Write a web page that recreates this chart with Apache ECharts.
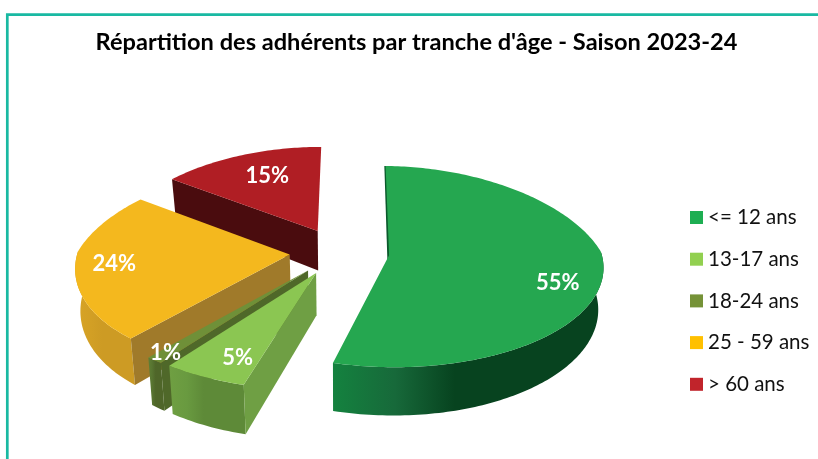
<!DOCTYPE html>
<html>
<head>
<meta charset="utf-8">
<style>
  html, body { margin: 0; padding: 0; background: #fff; }
  #main { width: 818px; height: 459px; }
</style>
</head>
<body>
<div id="main"></div>
<script src="https://cdn.jsdelivr.net/npm/echarts@6/dist/echarts.min.js"></script>
<script>
const categories = ['<= 12 ans', '13-17 ans', '18-24 ans', '25 - 59 ans', '> 60 ans'];
const shares = [55, 5, 1, 24, 15];

const legendColors = ['#1dae52', '#92d050', '#759237', '#ffc000', '#c1242b'];
const topColors = ['#25a750', '#8bc652', '#6f9038', '#f4b81e', '#b01e24'];
const cutColors = ['#0b5a2c', '#6f9f44', '#4f6829', '#a07a2a', '#4a0c0e'];
const wallLeft = ['#14823f', '#6f9f42', '#5f7f35', '#d8a426', '#4a0c0e'];
const wallMid = ['#17693a', '#699a40', '#587531', '#d3a025', '#4a0c0e'];
const wallRight = ['#07431f', '#5e8a38', '#4f6629', '#cd9b24', '#4a0c0e'];
const drawOrder = [5, 4, 3, 2, 1];

// label place on the disc: radius fraction and degrees away from the slice middle
const labelRadius = [0.81, 0.81, 0.93, 0.82, 0.69];
const labelShift = [13, -3.5, 0, 0.5, 2.1];

const centerX = 339.5;
const centerY = 251.5;
const radiusX = 212;
const radiusY = 100;
const explode = 0.236;
const thickness = 41;

const total = shares.reduce((a, b) => a + b, 0);

// the far side of the picture shrinks faster than the near side grows,
// and the near left side bulges a little
function project (u, v) {
  const wx = 1 / (1 - (v < 0 ? 0.2 : 0.1) * v);
  const wy = 1 / (1 - (v < 0 ? 0.13 : 0.1) * v);
  const bulge = u < 0 && v > 0 ? 8 * Math.min(1, -u / 0.3) * Math.pow(Math.min(1, v / 0.8), 2) : 0;
  return { x: centerX + u * radiusX * wx - bulge, y: centerY + v * radiusY * wy, w: wy };
}

// the rim slides a little near the two ends of the big slice, as in the original view
function warp (deg) {
  if (deg < 90) return deg + 1.5 * Math.cos(deg * Math.PI / 180);
  return deg < 220 ? deg - 6 * Math.sin(Math.PI * (deg - 90) / 130) : deg;
}

function onDisc (deg, r, mid) {
  const a = warp(deg) * Math.PI / 180;
  const m = mid * Math.PI / 180;
  return project(r * Math.sin(a) + explode * Math.sin(m), -r * Math.cos(a) - explode * Math.cos(m));
}

function dropped (p) {
  const x = centerX + (p.x - centerX) * 0.98;
  return [x, p.y + thickness * Math.pow(p.w, 1.5)];
}

function sliceItem (index, value) {
  const before = shares.slice(0, index).reduce((a, b) => a + b, 0);
  const start = before / total * 360;
  const end = start + value / total * 360;
  const mid = (start + end) / 2;
  const apex = onDisc(mid, 0, mid);
  const steps = Math.max(4, Math.round(end - start));
  const rim = [];
  for (let i = 0; i <= steps; i++) {
    const deg = start + (end - start) * i / steps;
    rim.push({ deg: deg, p: onDisc(deg, 1, mid) });
  }
  const children = [];
  const poly = (points, fill) => children.push({ type: 'polygon', shape: { points: points }, style: { fill: fill } });

  // outer wall, only the part that looks at the viewer
  const front = rim.filter(r => r.deg >= 88 && r.deg <= 272);
  if (front.length > 1) {
    const pts = front.map(r => [r.p.x, r.p.y]).concat(front.slice().reverse().map(r => dropped(r.p)));
    poly(pts, new echarts.graphic.LinearGradient(0, 0, 1, 0, [
      { offset: 0, color: wallLeft[index] },
      { offset: 0.23, color: wallMid[index] },
      { offset: 0.45, color: wallRight[index] },
      { offset: 1, color: wallRight[index] }
    ]));
  }

  // cut faces
  if (Math.sin(start * Math.PI / 180) < -0.01) {
    const p = rim[0].p;
    poly([[apex.x, apex.y], [p.x, p.y], dropped(p), dropped(apex)], cutColors[index]);
  }
  if (index === 0) {
    const p = rim[0].p;
    children.push({
      type: 'polyline',
      shape: { points: [[p.x, p.y], [apex.x - 0.5, apex.y + 4]] },
      style: { stroke: cutColors[0], lineWidth: 2.5, fill: null }
    });
  }

  poly([[apex.x, apex.y]].concat(rim.map(r => [r.p.x, r.p.y])), topColors[index]);

  const lab = onDisc(mid + labelShift[index], labelRadius[index], mid);
  children.push({
    type: 'text',
    style: {
      text: value + '%',
      x: lab.x,
      y: lab.y,
      fill: '#fff',
      font: 'bold 22px Lato',
      align: 'center',
      verticalAlign: 'middle'
    }
  });
  return { type: 'group', children: children };
}

const chart = echarts.init(document.getElementById('main'));

const option = {
  animation: false,
  title: {
    text: "Répartition des adhérents par tranche d'âge - Saison 2023-24",
    left: 411.5,
    top: 25,
    textAlign: 'center',
    textStyle: { fontFamily: 'Lato', fontWeight: 'bold', fontSize: 23.6, color: '#000' }
  },
  legend: {
    orient: 'vertical',
    left: 685,
    top: 202,
    icon: 'rect',
    itemWidth: 13,
    itemHeight: 13,
    itemGap: 20.7,
    selectedMode: false,
    data: categories,
    textStyle: { fontFamily: 'Lato', fontSize: 20.5, color: '#111' }
  },
  graphic: [{
    type: 'rect',
    silent: true,
    shape: { x: 7.3, y: 14.6, width: 900, height: 600 },
    style: { fill: null, stroke: '#19b9a2', lineWidth: 2.7 }
  }],
  series: categories.map((name, i) => ({
    name: name,
    type: 'custom',
    coordinateSystem: 'none',
    z: drawOrder[i],
    itemStyle: { color: legendColors[i] },
    data: [shares[i]],
    renderItem: (params, api) => sliceItem(i, api.value(0))
  }))
};

chart.setOption(option);
</script>
</body>
</html>
